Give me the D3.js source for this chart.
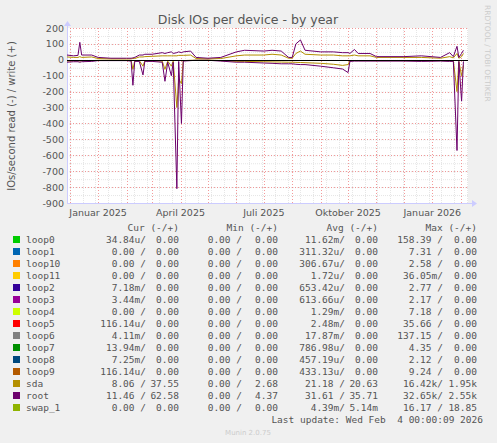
<!DOCTYPE html><html><head><meta charset="utf-8"><script src="https://cdn.jsdelivr.net/npm/d3@7"></script>
<style>body{margin:0;background:#F0F0F0}</style></head><body><svg id="c" width="497" height="443"></svg>
<script>
const dates=["2024-11-28","2024-12-05","2024-12-10","2024-12-12","2024-12-14","2024-12-25","2025-01-01","2025-01-15","2025-02-01","2025-02-06","2025-02-08","2025-02-10","2025-02-15","2025-02-19","2025-02-21","2025-03-01","2025-03-12","2025-03-15","2025-03-18","2025-03-22","2025-03-24","2025-03-28","2025-03-30","2025-04-02","2025-04-04","2025-04-12","2025-04-18","2025-05-01","2025-05-15","2025-06-01","2025-06-10","2025-07-01","2025-07-10","2025-07-20","2025-07-28","2025-08-01","2025-08-05","2025-08-10","2025-08-15","2025-09-01","2025-09-15","2025-09-25","2025-10-01","2025-10-03","2025-10-08","2025-10-12","2025-10-25","2025-11-01","2025-12-01","2025-12-20","2026-01-10","2026-01-20","2026-01-24","2026-01-28","2026-01-30","2026-02-02","2026-02-04"];
const rootWrite=[30,25,28,110,30,30,15,10,10,10,12,15,30,30,35,35,45,40,45,50,40,45,50,45,50,55,15,10,15,50,60,55,60,55,15,15,100,125,60,50,50,45,45,40,65,40,40,20,20,25,15,45,20,85,15,40,60];
const sdaWrite=[18,15,15,20,15,18,8,6,6,6,8,8,18,18,20,22,25,25,25,25,25,25,28,28,28,30,8,6,8,25,30,30,35,30,10,10,40,55,35,30,30,25,25,25,30,25,25,15,15,15,10,20,12,40,10,20,40];
const rootRead=[-15,-12,-12,-15,-12,-10,-5,-5,-5,-8,-160,-10,-10,-95,-10,-10,-15,-135,-15,-100,-15,-810,-10,-400,-8,-5,-3,-3,-8,-15,-15,-20,-22,-25,-25,-25,-28,-30,-30,-40,-50,-58,-80,-10,-8,-8,-8,-8,-8,-10,-8,-10,-10,-570,-10,-260,-10];
const sdaRead=[-8,-6,-6,-8,-6,-5,-3,-3,-3,-4,-60,-5,-5,-40,-5,-6,-8,-60,-8,-40,-8,-300,-120,-150,-5,-3,-2,-2,-5,-10,-10,-12,-13,-14,-15,-15,-16,-17,-18,-22,-28,-35,-30,-5,-5,-5,-5,-5,-5,-6,-5,-6,-6,-200,-10,-100,-35];
const yTicks=[200,100,0,-100,-200,-300,-400,-500,-600,-700,-800,-900];
const xTicks=[["2025-01-01","Januar 2025"],["2025-04-01","April 2025"],["2025-07-01","Juli 2025"],["2025-10-01","Oktober 2025"],["2026-01-01","Januar 2026"]];
const names=["loop0","loop1","loop10","loop11","loop2","loop3","loop4","loop5","loop6","loop7","loop8","loop9","sda","root","swap_1"];
const colors=["#00CC00","#0066B3","#FF8000","#FFCC00","#330099","#990099","#CCFF00","#FF0000","#808080","#008F00","#00487D","#B35A00","#B38F00","#6B006B","#8FB300"];
const cur=[["34.84u/","0.00"],["0.00 /","0.00"],["0.00 /","0.00"],["0.00 /","0.00"],["7.18m/","0.00"],["3.44m/","0.00"],["0.00 /","0.00"],["116.14u/","0.00"],["4.11m/","0.00"],["13.94m/","0.00"],["7.25m/","0.00"],["116.14u/","0.00"],["8.06 /","37.55"],["11.46 /","62.58"],["0.00 /","0.00"]];
const mn=[["0.00 /","0.00"],["0.00 /","0.00"],["0.00 /","0.00"],["0.00 /","0.00"],["0.00 /","0.00"],["0.00 /","0.00"],["0.00 /","0.00"],["0.00 /","0.00"],["0.00 /","0.00"],["0.00 /","0.00"],["0.00 /","0.00"],["0.00 /","0.00"],["0.00 /","2.68"],["0.00 /","4.37"],["0.00 /","0.00"]];
const avg=[["11.62m/","0.00"],["311.32u/","0.00"],["306.67u/","0.00"],["1.72u/","0.00"],["653.42u/","0.00"],["613.66u/","0.00"],["1.29m/","0.00"],["2.48m/","0.00"],["17.87m/","0.00"],["786.98u/","0.00"],["457.19u/","0.00"],["433.13u/","0.00"],["21.18 /","20.63"],["31.61 /","35.71"],["4.39m/","5.14m"]];
const mx=[["158.39 /","0.00"],["7.31 /","0.00"],["2.58 /","0.00"],["36.05m/","0.00"],["2.77 /","0.00"],["2.17 /","0.00"],["7.18 /","0.00"],["35.66 /","0.00"],["137.15 /","0.00"],["4.35 /","0.00"],["2.12 /","0.00"],["9.24 /","0.00"],["16.42k/","1.95k"],["32.65k/","2.55k"],["16.17 /","18.85"]];

const svg=d3.select("#c"),P=d3.timeParse("%Y-%m-%d");
const L=67,R=468,T=28,B=203;
const x=d3.scaleTime().domain([P("2024-11-28"),P("2026-02-09")]).range([L,R]);
const y=d3.scaleLinear().domain([-900,200]).range([B,T]);
svg.append("rect").attr("x",L).attr("y",T).attr("width",R-L).attr("height",B-T).attr("fill","#fff");
const g=svg.append("g");
// minor grid
d3.range(-850,200,50).forEach(v=>g.append("line").attr("x1",L).attr("x2",R).attr("y1",y(v)+.5).attr("y2",y(v)+.5).attr("stroke","#ccc").attr("stroke-dasharray","1,1").attr("stroke-width",0.5));
x.ticks(d3.timeWeek.every(2)).forEach(d=>g.append("line").attr("x1",Math.round(x(d))+.5).attr("x2",Math.round(x(d))+.5).attr("y1",T).attr("y2",B).attr("stroke","#ccc").attr("stroke-dasharray","1,1").attr("stroke-width",0.5));
// major grid
yTicks.forEach(v=>g.append("line").attr("x1",L).attr("x2",R).attr("y1",Math.round(y(v))+.5).attr("y2",Math.round(y(v))+.5).attr("stroke","#f08080").attr("stroke-dasharray","1,2").attr("stroke-width",0.8));
x.ticks(d3.timeMonth.every(1)).forEach(d=>g.append("line").attr("x1",Math.round(x(d))+.5).attr("x2",Math.round(x(d))+.5).attr("y1",T).attr("y2",B).attr("stroke","#f08080").attr("stroke-dasharray","1,2").attr("stroke-width",0.8));
// axes lines
svg.append("line").attr("x1",L).attr("x2",R+6).attr("y1",B+.5).attr("y2",B+.5).attr("stroke","#ccf");
svg.append("line").attr("x1",L+.5).attr("x2",L+.5).attr("y1",B).attr("y2",T-6).attr("stroke","#ccf");
svg.append("path").attr("d",`M${R+4},${B-3}L${R+9},${B+.5}L${R+4},${B+4}Z`).attr("fill","#ccf");
svg.append("path").attr("d",`M${L-3},${T-2}L${L+.5},${T-7}L${L+4},${T-2}Z`).attr("fill","#ccf");
const ln=d3.line().x((d,i)=>x(P(dates[i]))).y(d=>y(d));
[[sdaRead,"#B38F00"],[sdaWrite,"#B38F00"],[rootRead,"#6B006B"],[rootWrite,"#6B006B"]].forEach(([a,c])=>svg.append("path").attr("d",ln(a)).attr("fill","none").attr("stroke",c).attr("stroke-width",1));
svg.append("line").attr("x1",L).attr("x2",R).attr("y1",Math.round(y(0))+.5).attr("y2",Math.round(y(0))+.5).attr("stroke","#000");
const F="DejaVu Sans, sans-serif";
yTicks.forEach(v=>svg.append("text").attr("x",64).attr("y",y(v)+3.5).attr("text-anchor","end").attr("font-family",F).attr("font-size",9.5).attr("fill","#555").text(v));
xTicks.forEach(([d,t])=>svg.append("text").attr("x",x(P(d))).attr("y",216).attr("text-anchor","middle").attr("font-family",F).attr("font-size",9.5).attr("fill","#555").text(t));
svg.append("text").attr("x",248).attr("y",24).attr("text-anchor","middle").attr("font-family",F).attr("font-size",12.5).attr("fill","#555").text("Disk IOs per device - by year");
svg.append("text").attr("transform","translate(15,116)rotate(-90)").attr("text-anchor","middle").attr("font-family",F).attr("font-size",10).attr("fill","#555").text("IOs/second read (-) / write (+)");
svg.append("text").attr("transform","translate(485,5)rotate(90)").attr("font-family",F).attr("font-size",7.5).attr("fill","#ccc").text("RRDTOOL / TOBI OETIKER");
const M="DejaVu Sans Mono, monospace",fs=9.5;
const hdr=[[179,"Cur (-/+)"],[278,"Min (-/+)"],[378,"Avg (-/+)"],[477,"Max (-/+)"]];
hdr.forEach(([xx,t])=>svg.append("text").attr("x",xx).attr("y",231).attr("text-anchor","end").attr("font-family",M).attr("font-size",fs).attr("fill","#555").text(t));
const cols=[[cur,146,179],[mn,242,278],[avg,345,378],[mx,443,477]];
names.forEach((n,i)=>{const yy=243+i*12;
 svg.append("rect").attr("x",13).attr("y",yy-7).attr("width",7).attr("height",7).attr("fill",colors[i]);
 svg.append("text").attr("x",26).attr("y",yy).attr("font-family",M).attr("font-size",fs).attr("fill","#555").text(n);
 cols.forEach(([a,l,r])=>{svg.append("text").attr("x",l).attr("y",yy).attr("text-anchor","end").attr("font-family",M).attr("font-size",fs).attr("fill","#555").attr("xml:space","preserve").text(a[i][0]);
  svg.append("text").attr("x",r).attr("y",yy).attr("text-anchor","end").attr("font-family",M).attr("font-size",fs).attr("fill","#555").text(a[i][1]);});
});
svg.append("text").attr("x",483).attr("y",423).attr("text-anchor","end").attr("font-family",M).attr("font-size",fs).attr("fill","#555").attr("xml:space","preserve").text("Last update: Wed Feb  4 00:00:09 2026");
svg.append("text").attr("x",248).attr("y",435).attr("text-anchor","middle").attr("font-family",F).attr("font-size",7).attr("fill","#ccc").text("Munin 2.0.75");
</script></body></html>
